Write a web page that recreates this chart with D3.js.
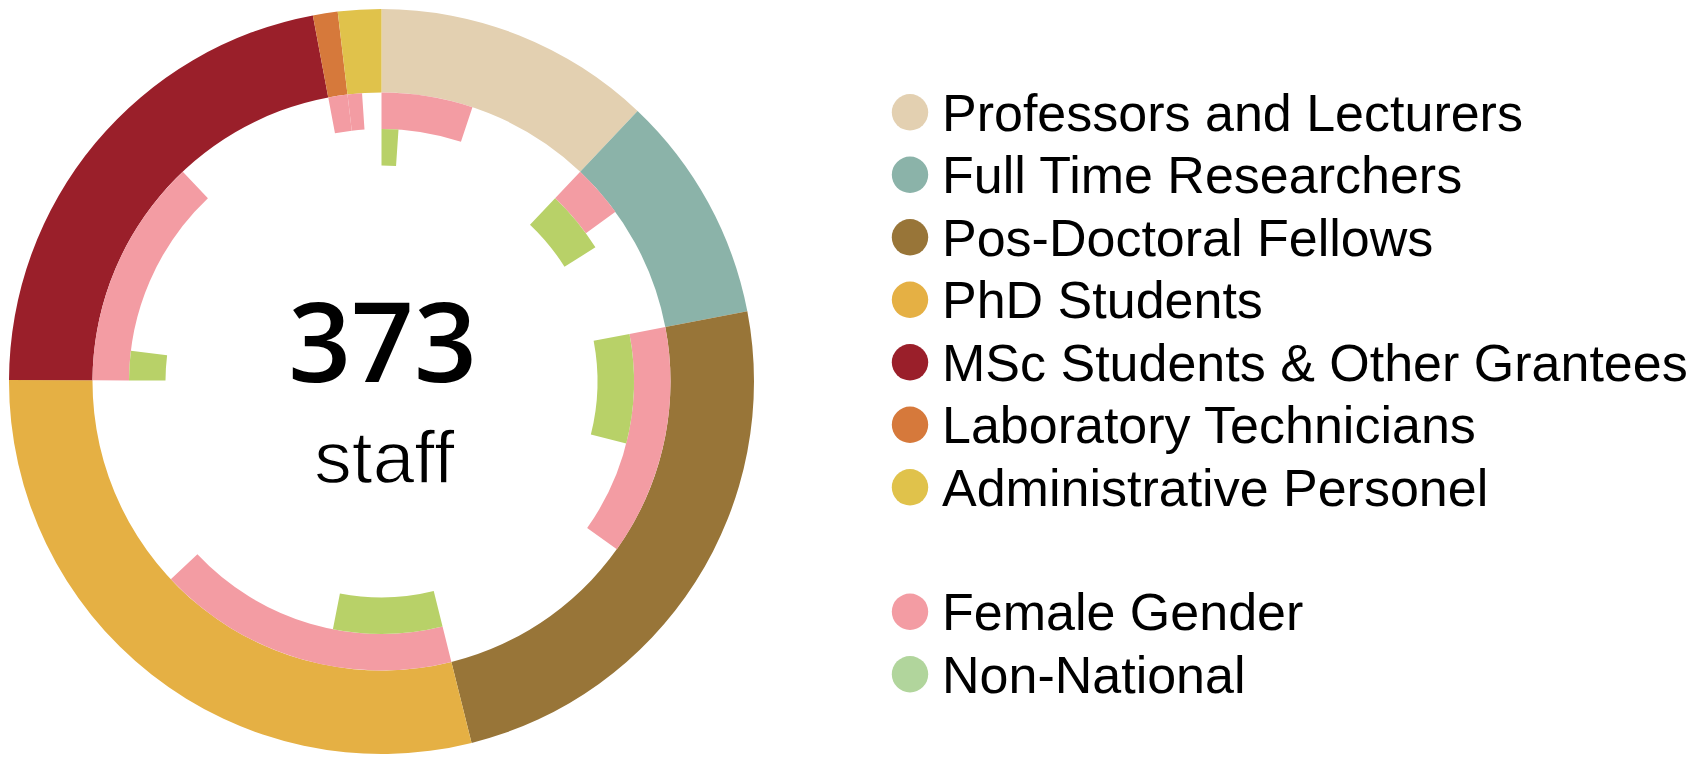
<!DOCTYPE html>
<html>
<head>
<meta charset="utf-8">
<script src="https://cdn.jsdelivr.net/npm/d3@7"></script>
<style>
  html, body { margin: 0; padding: 0; background: #ffffff; }
  svg { display: block; }
</style>
</head>
<body>
<svg id="chart" width="1696" height="764"></svg>
<script>
// ---- data ----
const categories = [
  "Professors and Lecturers",
  "Full Time Researchers",
  "Pos-Doctoral Fellows",
  "PhD Students",
  "MSc Students & Other Grantees",
  "Laboratory Technicians",
  "Administrative Personel"
];
const staffCounts   = [45, 37, 90, 108, 82, 4, 7];
const femaleCounts  = [19, 11, 48, 63, 48, 4, 3];
const nonNationalCounts = [4, 15, 26, 26, 7, 0, 0];
const subgroupLabels = ["Female Gender", "Non-National"];
const centerNumber = "373";
const centerLabel = "staff";

// ---- styles ----
const categoryColors = ["#E3D0B1", "#8BB3A9", "#987538", "#E5B044", "#9A1F2A", "#D6793B", "#E0C24B"];
const femaleColor = "#F39CA3";
const nonNationalColor = "#B8D168";
const legendSubColors = ["#F39CA3", "#B1D59C"];

const svg = d3.select("#chart");
const cx = 381.5, cy = 381.5;
const rOuter = 372.5, rInner = 289;
const rPinkIn = 252.5, rGreenIn = 216;

const g = svg.append("g").attr("transform", `translate(${cx},${cy})`);

const total = d3.sum(staffCounts);
const pie = d3.pie().sort(null).value(d => d.count);
const slices = pie(categories.map((c, i) => ({
  name: c, count: staffCounts[i], female: femaleCounts[i], nonNat: nonNationalCounts[i], color: categoryColors[i]
})));

const angle = d3.scaleLinear().domain([0, total]).range([0, 2 * Math.PI]);

const ringArc = d3.arc().innerRadius(rInner).outerRadius(rOuter);
const pinkArc = d3.arc().innerRadius(rPinkIn).outerRadius(rInner);
const greenArc = d3.arc().innerRadius(rGreenIn).outerRadius(rPinkIn);

g.selectAll("path.ring").data(slices).join("path")
  .attr("class", "ring")
  .attr("d", ringArc)
  .attr("fill", d => d.data.color);

g.selectAll("path.female").data(slices.filter(d => d.data.female > 0)).join("path")
  .attr("class", "female")
  .attr("d", d => pinkArc({ startAngle: d.startAngle, endAngle: d.startAngle + angle(d.data.female) }))
  .attr("fill", femaleColor);

g.selectAll("path.nonnat").data(slices.filter(d => d.data.nonNat > 0)).join("path")
  .attr("class", "nonnat")
  .attr("d", d => greenArc({ startAngle: d.startAngle, endAngle: d.startAngle + angle(d.data.nonNat) }))
  .attr("fill", nonNationalColor);

// center text
g.append("text")
  .attr("x", 1).attr("y", 0)
  .attr("text-anchor", "middle")
  .attr("font-family", "'Open Sans', 'Noto Sans', sans-serif")
  .attr("font-weight", 600)
  .attr("font-size", 110)
  .attr("fill", "#000")
  .text(centerNumber);

g.append("text")
  .attr("x", 3).attr("y", 101)
  .attr("text-anchor", "middle")
  .attr("font-family", "'Liberation Sans', Arial, sans-serif")
  .attr("font-size", 75)
  .attr("fill", "#000")
  .attr("stroke", "#fff")
  .attr("stroke-width", 1.3)
  .text(centerLabel);

// legend
const legendX = 910, legendTextX = 942, fontSize = 52;
const rowY = d3.scaleLinear().domain([0, 1]).range([112.3, 174.8]);
const legendItems = categories.map((c, i) => ({ label: c, color: categoryColors[i], y: rowY(i) }))
  .concat(subgroupLabels.map((c, i) => ({ label: c, color: legendSubColors[i], y: 611.7 + i * 62.5 })));

const leg = svg.append("g");
const item = leg.selectAll("g").data(legendItems).join("g");
item.append("circle")
  .attr("cx", legendX).attr("cy", d => d.y).attr("r", 18.2)
  .attr("fill", d => d.color);
item.append("text")
  .attr("x", legendTextX).attr("y", d => d.y + 18.5)
  .attr("font-family", "'Liberation Sans', Arial, Helvetica, sans-serif")
  .attr("font-size", fontSize)
  .attr("fill", "#000")
  .text(d => d.label);
</script>
</body>
</html>
